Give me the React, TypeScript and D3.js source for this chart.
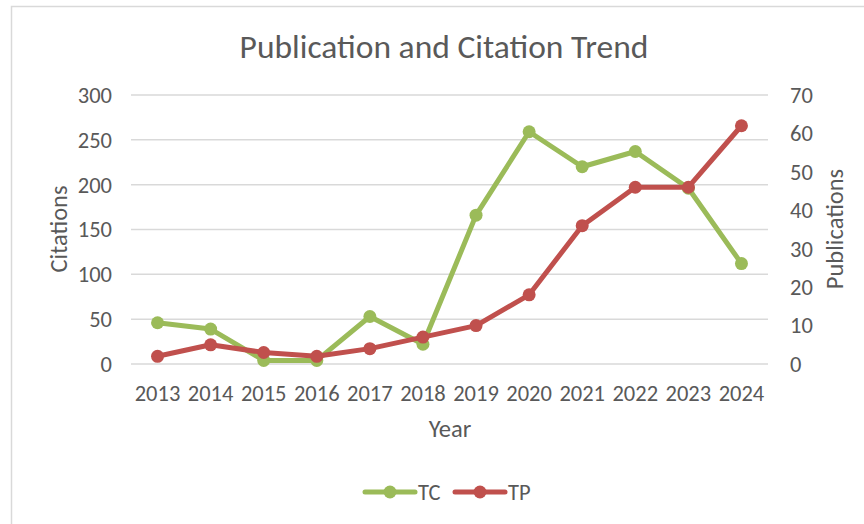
import React, { useEffect, useRef } from 'react';
import * as d3 from 'd3';

const years = ['2013', '2014', '2015', '2016', '2017', '2018', '2019', '2020', '2021', '2022', '2023', '2024'];
const citations = [46, 39, 4, 4, 53, 22, 166, 259, 220, 237, 196, 112];
const publications = [2, 5, 3, 2, 4, 7, 10, 18, 36, 46, 46, 62];
const leftTicks = [0, 50, 100, 150, 200, 250, 300];
const rightTicks = [0, 10, 20, 30, 40, 50, 60, 70];

const GREEN = '#9bbb59';
const RED = '#c0504d';
const TEXT = '#595959';
const FONT = "Carlito, Calibri, 'Liberation Sans', sans-serif";

export default function App() {
  const svgRef = useRef<SVGSVGElement>(null);

  useEffect(() => {
    const width = 864, height = 524;
    const plot = { left: 131, right: 768, top: 95, bottom: 364 };

    const svg = d3.select(svgRef.current);
    svg.selectAll('*').remove();
    svg.attr('width', width).attr('height', height).style('font-family', FONT);

    // chart frame
    svg.append('rect')
      .attr('x', 11.5).attr('y', 6.5)
      .attr('width', 880).attr('height', 540)
      .attr('fill', '#fff')
      .attr('stroke', '#d9d9d9')
      .attr('stroke-width', 1.5);

    const x = d3.scaleBand().domain(years).range([plot.left, plot.right]);
    const yLeft = d3.scaleLinear().domain([0, 300]).range([plot.bottom, plot.top]);
    const yRight = d3.scaleLinear().domain([0, 70]).range([plot.bottom, plot.top]);
    const cx = (d: string) => (x(d) as number) + x.bandwidth() / 2;

    // gridlines
    svg.append('g')
      .selectAll('line')
      .data(leftTicks)
      .enter()
      .append('line')
      .attr('x1', plot.left).attr('x2', plot.right)
      .attr('y1', d => yLeft(d)).attr('y2', d => yLeft(d))
      .attr('stroke', '#d9d9d9')
      .attr('stroke-width', 1.5);

    // left tick labels
    svg.append('g')
      .selectAll('text')
      .data(leftTicks)
      .enter()
      .append('text')
      .attr('x', 112)
      .attr('y', d => yLeft(d))
      .attr('dy', '0.35em')
      .attr('text-anchor', 'end')
      .attr('fill', TEXT)
      .style('font-size', '22.5px')
      .text(d => d);

    // right tick labels
    svg.append('g')
      .selectAll('text')
      .data(rightTicks)
      .enter()
      .append('text')
      .attr('x', 790)
      .attr('y', d => yRight(d))
      .attr('dy', '0.35em')
      .attr('text-anchor', 'start')
      .attr('fill', TEXT)
      .style('font-size', '22.5px')
      .text(d => d);

    // x tick labels
    svg.append('g')
      .selectAll('text')
      .data(years)
      .enter()
      .append('text')
      .attr('x', d => cx(d))
      .attr('y', 393)
      .attr('dy', '0.35em')
      .attr('text-anchor', 'middle')
      .attr('fill', TEXT)
      .style('font-size', '22.5px')
      .text(d => d);

    // titles
    svg.append('text')
      .attr('x', 444).attr('y', 46)
      .attr('dy', '0.35em')
      .attr('text-anchor', 'middle')
      .attr('fill', TEXT)
      .style('font-size', '33.5px')
      .text('Publication and Citation Trend');

    svg.append('text')
      .attr('transform', 'translate(58,229) rotate(-90)')
      .attr('dy', '0.35em')
      .attr('text-anchor', 'middle')
      .attr('fill', TEXT)
      .style('font-size', '24.5px')
      .text('Citations');

    svg.append('text')
      .attr('transform', 'translate(834,229) rotate(-90)')
      .attr('dy', '0.35em')
      .attr('text-anchor', 'middle')
      .attr('fill', TEXT)
      .style('font-size', '24.5px')
      .text('Publications');

    svg.append('text')
      .attr('x', 450).attr('y', 428)
      .attr('dy', '0.35em')
      .attr('text-anchor', 'middle')
      .attr('fill', TEXT)
      .style('font-size', '24.5px')
      .text('Year');

    // series
    const series = [
      { name: 'TC', values: citations, scale: yLeft, color: GREEN },
      { name: 'TP', values: publications, scale: yRight, color: RED },
    ];

    series.forEach(s => {
      const line = d3.line<number>()
        .x((_, i) => cx(years[i]))
        .y(d => s.scale(d));

      svg.append('path')
        .datum(s.values)
        .attr('d', line)
        .attr('fill', 'none')
        .attr('stroke', s.color)
        .attr('stroke-width', 5)
        .attr('stroke-linejoin', 'round');

      svg.append('g')
        .selectAll('circle')
        .data(s.values)
        .enter()
        .append('circle')
        .attr('cx', (_, i) => cx(years[i]))
        .attr('cy', d => s.scale(d))
        .attr('r', 6.5)
        .attr('fill', s.color);
    });

    // legend
    const legend = svg.append('g').attr('transform', 'translate(0,492)');
    const items = [
      { name: 'TC', color: GREEN, x: 365 },
      { name: 'TP', color: RED, x: 455 },
    ];
    items.forEach(it => {
      legend.append('line')
        .attr('x1', it.x).attr('x2', it.x + 50)
        .attr('y1', 0).attr('y2', 0)
        .attr('stroke', it.color)
        .attr('stroke-width', 5)
        .attr('stroke-linecap', 'round');
      legend.append('circle')
        .attr('cx', it.x + 25).attr('cy', 0)
        .attr('r', 6.5)
        .attr('fill', it.color);
      legend.append('text')
        .attr('x', it.x + 53).attr('y', 0)
        .attr('dy', '0.35em')
        .attr('fill', TEXT)
        .style('font-size', '22.5px')
        .text(it.name);
    });
  }, []);

  return (
    <svg ref={svgRef} style={{ position: 'absolute', left: 0, top: 0, display: 'block' }}></svg>
  );
}
